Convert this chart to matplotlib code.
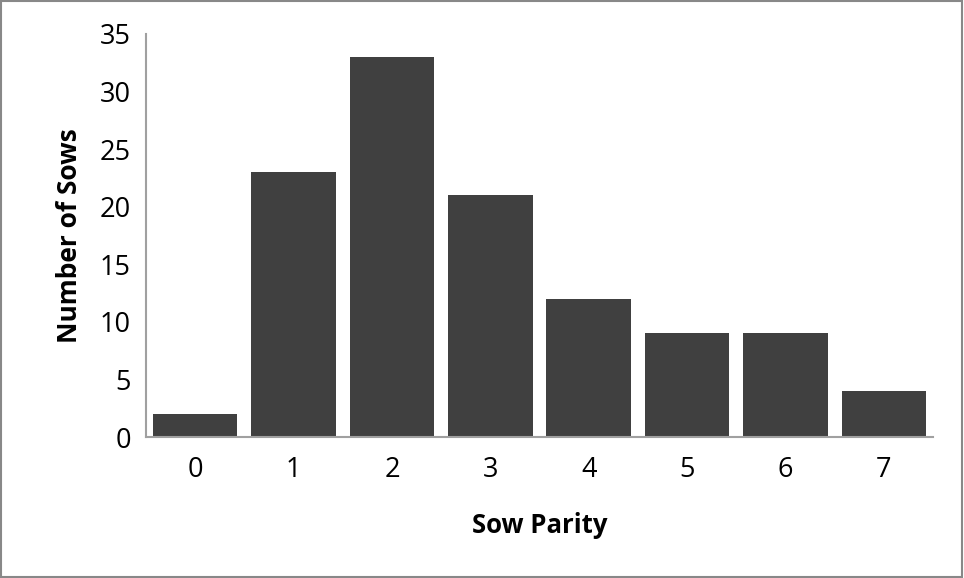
import matplotlib

matplotlib.use("Agg")

import matplotlib.pyplot as plt
from matplotlib.patches import Rectangle

parity = ["0", "1", "2", "3", "4", "5", "6", "7"]
sows = [2, 23, 33, 21, 12, 9, 9, 4]

plt.rcParams["font.family"] = ["Open Sans", "DejaVu Sans"]

fig = plt.figure(figsize=(9.64, 5.78), dpi=100)
ax = fig.add_axes([146 / 964, 1 - 437 / 578, (933 - 146) / 964, (437 - 34) / 578])

x = range(len(parity))
ax.bar(x, sows, width=0.86, color="#404040")

ax.set_xlim(-0.5, len(parity) - 0.5)
ax.set_ylim(0, 35)
ax.set_yticks(range(0, 36, 5))
ax.set_xticks(list(x))
ax.set_xticklabels(parity)
ax.tick_params(length=0, labelsize=19.5, pad=11)
ax.tick_params(axis="x", pad=14)

for side in ("top", "right"):
    ax.spines[side].set_visible(False)
for side in ("left", "bottom"):
    ax.spines[side].set_color("#a0a0a0")
    ax.spines[side].set_linewidth(1.5)

ax.set_xlabel("Sow Parity", fontsize=18.5, fontweight="bold", labelpad=20)
ax.set_ylabel("Number of Sows", fontsize=19, fontweight="bold", labelpad=12)

# outer chart border
fig.patches.append(Rectangle((0.001, 0.002), 0.997, 0.996, transform=fig.transFigure,
                             fill=False, edgecolor="#888888", linewidth=1.5))

fig.savefig("out.png", dpi=100)
